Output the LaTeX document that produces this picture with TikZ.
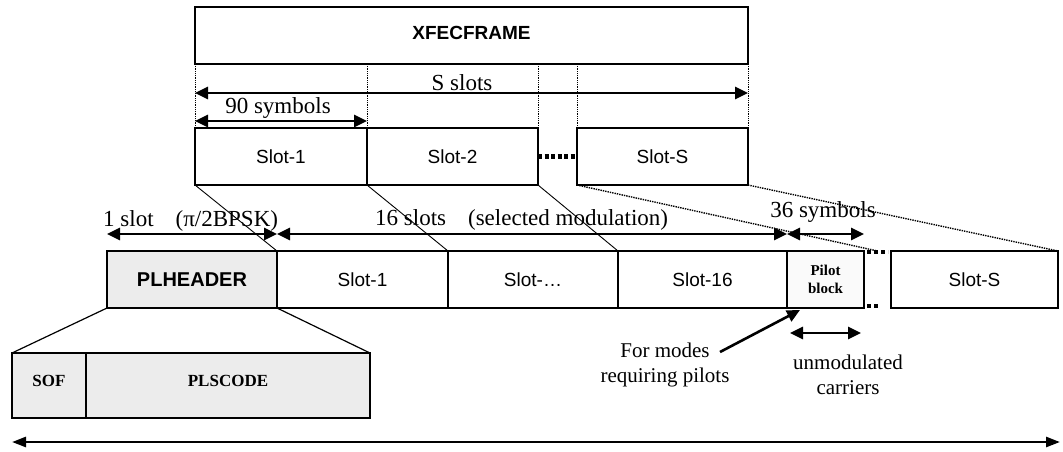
\documentclass[tikz,border=0pt]{standalone}
\usepackage{fontspec}
\setmainfont{Liberation Serif}
\setsansfont{Liberation Sans}
\usetikzlibrary{arrows.meta,calc}
\begin{document}
\begin{tikzpicture}[x=1pt,y=-1pt,
  box/.style={draw, line width=1.6pt, inner sep=0pt, outer sep=0pt, anchor=north west,
    font=\sffamily\fontsize{19}{22}\selectfont},
  midbox/.style={box, line width=2.4pt},
  speckle/.style={fill=gray!15},
  lbl/.style={inner sep=0pt, font=\fontsize{23}{27}\selectfont},
  lblsm/.style={inner sep=0pt, align=center, font=\fontsize{21}{25}\selectfont},
  dimarr/.style={{Triangle[length=13pt,width=12pt]}-{Triangle[length=13pt,width=12pt]}, line width=2.6pt},
  ptr/.style={-{Triangle[length=13pt,width=12pt]}, line width=2.6pt},
  proj/.style={line width=0.9pt},
  projdot/.style={line width=1.4pt, densely dotted},
  guide/.style={line width=0.8pt, densely dotted},
  dotrow/.style={line width=4.5pt, dash pattern=on 4pt off 2.5pt}
]
\useasboundingbox (0,0) rectangle (1063,451);

% top frame
\node[box, minimum width=553pt, minimum height=57pt, font=\sffamily\bfseries\fontsize{19}{22}\selectfont] (xfec) at (195,7) {\raisebox{5pt}{XFECFRAME}};
\node[box, minimum width=172pt, minimum height=57pt] (ts1) at (195,128) {Slot-1};
\node[box, minimum width=171pt, minimum height=57pt] (ts2) at (367,128) {Slot-2};
\node[box, minimum width=171pt, minimum height=57pt] (tsS) at (577,128) {Slot-S};
\draw[dotrow] (ts2.east) -- (tsS.west);

% guides
\draw[guide] (xfec.south west) -- (ts1.north west);
\draw[guide] (ts1.north east |- xfec.south) -- (ts1.north east);
\draw[guide] (ts2.north east |- xfec.south) -- (ts2.north east);
\draw[guide] (tsS.north west |- xfec.south) -- (tsS.north west);
\draw[guide] (xfec.south east) -- (tsS.north east);

\draw[dimarr] ([yshift=-29pt]xfec.south west) -- ([yshift=-29pt]xfec.south east);
\node[lbl] (sslots) at (462,83) {S slots};
\draw[dimarr] ([yshift=7pt]ts1.north west) -- ([yshift=7pt]ts1.north east);
\node[lbl] (ninety) at (278,108) {90 symbols};

% middle row
\node[midbox, speckle, minimum width=170pt, minimum height=57pt, font=\sffamily\bfseries\fontsize{20}{22}\selectfont] (plh) at (107,251) {PLHEADER};
\node[midbox, minimum width=171pt, minimum height=57pt] (ms1) at (277,251) {Slot-1};
\node[midbox, minimum width=170pt, minimum height=57pt] (msd) at (448,251) {Slot-\dots};
\node[midbox, minimum width=169pt, minimum height=57pt] (ms16) at (618,251) {Slot-16};
\node[midbox, fill=gray!4, minimum width=77pt, minimum height=57pt, align=center,
  font=\rmfamily\bfseries\fontsize{15}{18}\selectfont] (pilot) at (787,251) {Pilot\\block};
\node[midbox, minimum width=167pt, minimum height=57pt] (msS) at (891,251) {Slot-S};
\draw[line width=4.5pt, dash pattern=on 4pt off 3pt] ([xshift=3pt,yshift=-1pt]pilot.north east) -- ([xshift=24pt,yshift=-1pt]pilot.north east);
\draw[line width=4.5pt, dash pattern=on 4pt off 3pt] ([xshift=3pt,yshift=2pt]pilot.south east) -- ([xshift=14pt,yshift=2pt]pilot.south east);

% dimension arrows middle
\draw[dimarr] ([yshift=17pt]plh.north west) -- ([yshift=17pt]plh.north east);
\draw[dimarr] ([yshift=17pt]ms1.north west) -- ([yshift=17pt]ms16.north east);
\draw[dimarr] ([yshift=17pt]pilot.north west) -- ([yshift=17pt]pilot.north east);
\node[lbl, anchor=west] (oneslot) at (103,221) {1 slot\hspace{22pt}(π/2BPSK)};
\node[lbl, anchor=west] (sixteen) at (375,220) {16 slots\hspace{22pt}(selected modulation)};
\node[lbl] (thirtysix) at (823,212) {36 symbols};

% projection lines
\draw[proj] (ts1.south west) -- (plh.north east);
\draw[proj] (ts2.south west) -- (ms1.north east);
\draw[proj] (ts2.south east) -- (ms16.north west);
\draw[projdot] (tsS.south west) -- ($(pilot.north east)!0.5!(msS.north west)$);
\draw[projdot] (tsS.south east) -- (msS.north east);

% bottom PLHEADER expansion
\node[midbox, speckle, minimum width=74pt, minimum height=65pt, font=\rmfamily\bfseries\fontsize{17}{20}\selectfont] (sof) at (12,353) {\raisebox{10pt}{SOF}};
\node[midbox, speckle, minimum width=284pt, minimum height=65pt, font=\rmfamily\bfseries\fontsize{17}{20}\selectfont] (plsc) at (86,353) {\raisebox{10pt}{PLSCODE}};
\draw[proj, line width=1.2pt] (plh.south west) -- (sof.north west);
\draw[proj, line width=1.2pt] (plh.south east) -- (plsc.north east);

% pilots annotations
\node[lblsm] (modes) at (665,365) {For modes\\requiring pilots};
\coordinate (mstart) at (720,352);
\draw[ptr] (mstart) -- ([xshift=13pt,yshift=-2pt]pilot.south west);
\draw[dimarr] ([xshift=3pt,yshift=-25pt]pilot.south west) -- ([xshift=-3pt,yshift=-25pt]pilot.south east);
\node[lblsm] (unmod) at (848,375) {unmodulated\\carriers};

% bottom overall arrow
\coordinate (bl) at (12,442);
\coordinate (br) at (1060,442);
\draw[dimarr, {Triangle[length=14pt,width=10pt]}-{Triangle[length=14pt,width=10pt]}] (bl) -- (br);
\end{tikzpicture}
\end{document}
